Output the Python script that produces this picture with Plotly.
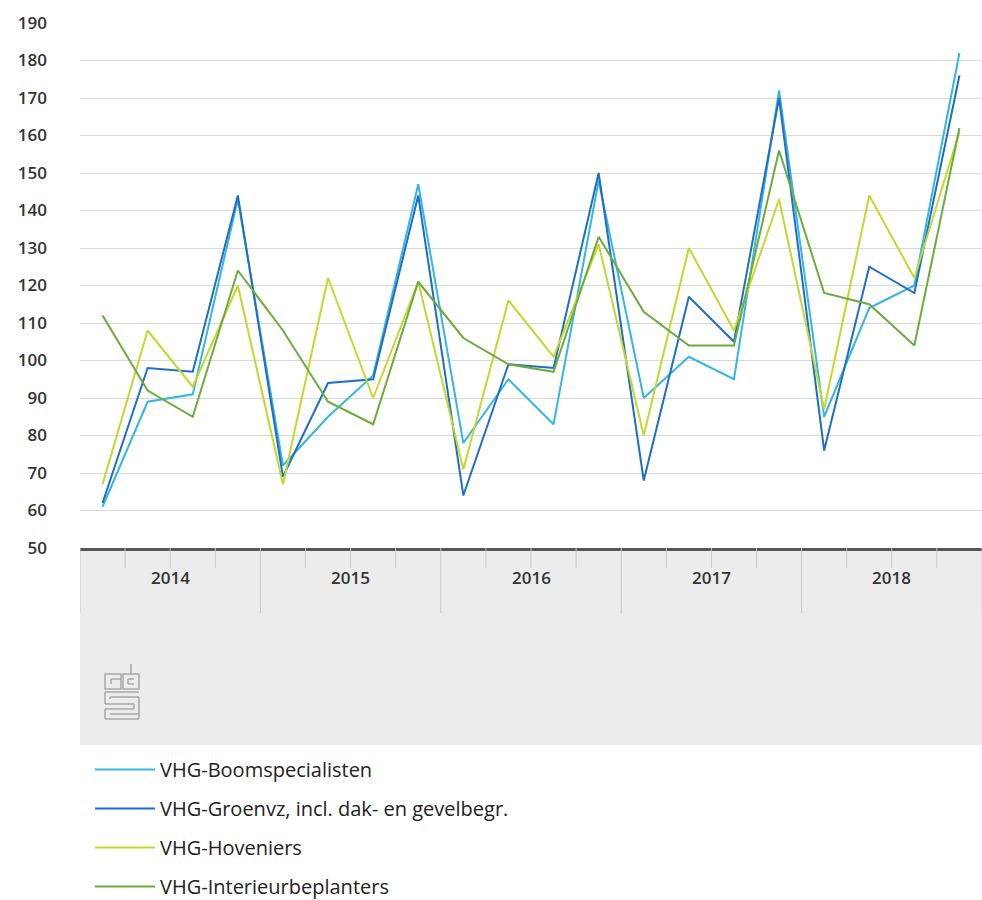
import plotly.graph_objects as go

# kwartalen 2014 t/m 2018
jaren = ["2014", "2015", "2016", "2017", "2018"]
kwartalen = [f"{j} Q{q}" for j in jaren for q in range(1, 5)]

boomspecialisten = [61, 89, 91, 143,
                    72, 85, 96, 147,
                    78, 95, 83, 148,
                    90, 101, 95, 172,
                    85, 114, 120, 182]
groenvz = [62, 98, 97, 144,
           69, 94, 95, 144,
           64, 99, 98, 150,
           68, 117, 105, 170,
           76, 125, 118, 176]
hoveniers = [67, 108, 93, 120,
             67, 122, 90, 121,
             71, 116, 101, 131,
             80, 130, 108, 143,
             87, 144, 122, 161]
interieur = [112, 92, 85, 124,
             108, 89, 83, 121,
             106, 99, 97, 133,
             113, 104, 104, 156,
             118, 115, 104, 162]

reeksen = [
    ("VHG-Boomspecialisten", boomspecialisten, "#35b6e4"),
    ("VHG-Groenvz, incl. dak- en gevelbegr.", groenvz, "#1f6ec6"),
    ("VHG-Hoveniers", hoveniers, "#c5d82e"),
    ("VHG-Interieurbeplanters", interieur, "#6cac3c"),
]

# pixel -> paper hulpjes (plot van x=80..982, y=23..548)
L, R, T, B = 80, 982, 23, 548
def px(x):
    return (x - L) / (R - L)
def py(y):
    return (B - y) / (B - T)

xs = list(range(len(kwartalen)))

fig = go.Figure()
for i, (naam, waarden, kleur) in enumerate(reeksen):
    fig.add_trace(go.Scatter(
        x=xs, y=waarden, name=naam, mode="lines",
        line=dict(color=kleur, width=2),
        legendgroup=str(i), cliponaxis=False,
    ))

shapes = []
# grijze band onder de as
shapes.append(dict(type="rect", xref="paper", yref="paper",
                   x0=0, x1=1, y0=py(745), y1=0,
                   fillcolor="#ececec", line=dict(width=0), layer="below"))
# jaar-scheidingen en kwartaal-streepjes
for k in range(len(jaren) + 1):
    shapes.append(dict(type="line", xref="x", yref="paper",
                       x0=4 * k - 0.5, x1=4 * k - 0.5, y0=py(613), y1=0,
                       line=dict(color="#c8c8c8", width=1)))
    if k < len(jaren):
        for q in range(1, 4):
            shapes.append(dict(type="line", xref="x", yref="paper",
                               x0=4 * k + q - 0.5, x1=4 * k + q - 0.5,
                               y0=py(568), y1=0,
                               line=dict(color="#c8c8c8", width=1)))

# cbs logo (ruwe benadering)
logo = dict(color="#a8a8a8", width=1.5)
def rect(x0, y0, x1, y1):
    shapes.append(dict(type="rect", xref="paper", yref="paper",
                       x0=px(x0), x1=px(x1), y0=py(y1), y1=py(y0), line=logo))
def lijn(x0, y0, x1, y1):
    shapes.append(dict(type="line", xref="paper", yref="paper",
                       x0=px(x0), x1=px(x1), y0=py(y0), y1=py(y1), line=logo))
rect(105, 674, 121, 689)
rect(123, 674, 139, 689)
lijn(131, 664, 131, 674)
lijn(111, 679, 121, 679)
lijn(111, 679, 111, 684)
lijn(128, 679, 134, 679)
lijn(128, 679, 128, 684)
lijn(128, 684, 134, 684)
lijn(105, 692, 139, 692)
lijn(105, 692, 105, 704)
lijn(110, 697, 139, 697)
lijn(110, 697, 110, 699)
lijn(105, 704, 134, 704)
lijn(139, 697, 139, 719)
lijn(105, 709, 134, 709)
lijn(134, 704, 134, 709)
lijn(105, 709, 105, 719)
lijn(105, 719, 139, 719)
lijn(110, 714, 139, 714)

labelfont = dict(size=17, color="#333333", family="Open Sans", weight=600)

annotations = []
for k, j in enumerate(jaren):
    annotations.append(dict(x=4 * k + 1.5, y=py(591), xref="x", yref="paper",
                            text=j, showarrow=False, font=labelfont))

fig.update_layout(
    width=982, height=900,
    margin=dict(l=L, r=982 - R, t=T, b=900 - B, autoexpand=False),
    paper_bgcolor="white", plot_bgcolor="white",
    font=dict(family="Open Sans", color="#333333"),
    shapes=shapes, annotations=annotations,
    showlegend=True,
    legend=dict(x=px(90), y=py(750), xanchor="left", yanchor="top",
                orientation="v", tracegroupgap=10, itemwidth=60,
                font=dict(size=20, color="#222222", family="Open Sans"),
                bgcolor="rgba(0,0,0,0)"),
)
fig.update_xaxes(range=[-0.5, len(kwartalen) - 0.5], showgrid=False,
                 zeroline=False, showticklabels=False, ticks="",
                 showline=True, linecolor="#555555", linewidth=3)
fig.update_yaxes(range=[50, 190], dtick=10, showgrid=True,
                 gridcolor="#d9d9d9", gridwidth=1, zeroline=False,
                 ticks="", ticklabelstandoff=32, tickfont=labelfont)

fig.write_html("out.html", config={"displayModeBar": False},
               post_script="document.body.style.margin='0';"
                           "document.body.style.overflow='hidden';")
